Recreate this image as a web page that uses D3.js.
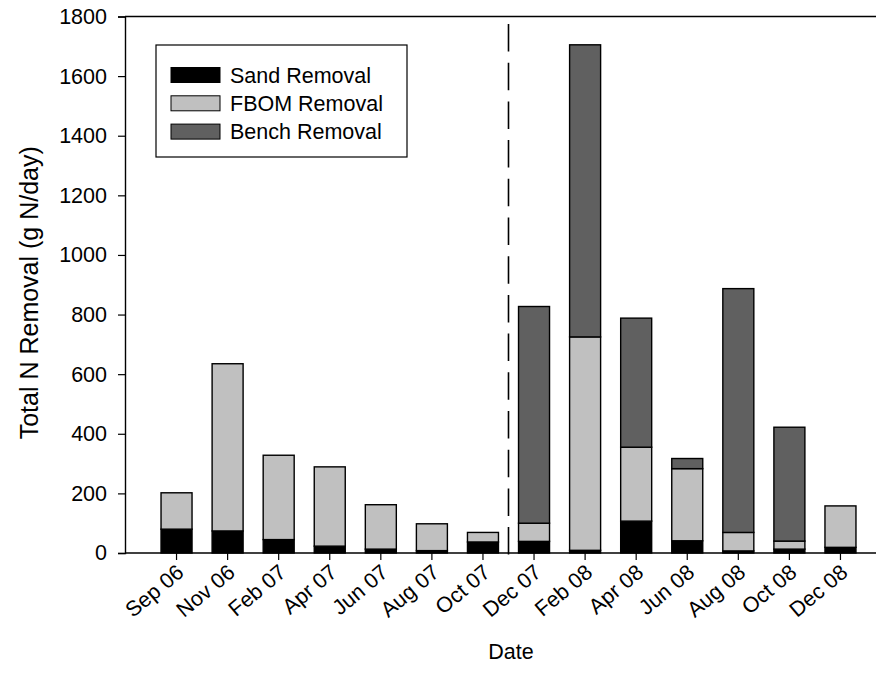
<!DOCTYPE html>
<html>
<head>
<meta charset="utf-8">
<script src="https://cdn.jsdelivr.net/npm/d3@7"></script>
<style>
  body { margin: 0; background: #fff; }
  text { font-family: "Liberation Sans", Arial, sans-serif; fill: #000; }
</style>
</head>
<body>
<div id="chart"></div>
<script>
// 데이터
const dates = ["Sep 06", "Nov 06", "Feb 07", "Apr 07", "Jun 07", "Aug 07", "Oct 07",
               "Dec 07", "Feb 08", "Apr 08", "Jun 08", "Aug 08", "Oct 08", "Dec 08"];
const sand  = [80, 74, 45, 23, 13, 8, 37, 39, 9, 107, 41, 7, 13, 19];
const fbom  = [122, 561, 283, 266, 149, 90, 32, 61, 716, 248, 242, 62, 27, 139];
const bench = [0, 0, 0, 0, 0, 0, 0, 727, 980, 433, 34, 818, 382, 0];
const seriesNames = ["Sand Removal", "FBOM Removal", "Bench Removal"];
const seriesColors = ["#000000", "#c0c0c0", "#606060"];
const yTicks = [0, 200, 400, 600, 800, 1000, 1200, 1400, 1600, 1800];

const width = 876, height = 679;
const mLeft = 125, mRight = 876, mTop = 16.5, mBottom = 553;

const svg = d3.select('#chart')
    .append('svg')
    .attr('width', width)
    .attr('height', height);

const rows = dates.map((d, i) => ({ date: d, sand: sand[i], fbom: fbom[i], bench: bench[i] }));
const stack = d3.stack().keys(["sand", "fbom", "bench"])(rows);

const x = d3.scaleBand()
    .domain(dates)
    .range([151, 866])
    .paddingInner(0.393)
    .paddingOuter(0.1965);

const y = d3.scaleLinear()
    .domain([0, 1800])
    .range([mBottom, mTop]);

// 막대
stack.forEach((layer, k) => {
    svg.append('g')
        .selectAll('rect')
        .data(layer.filter(d => d[1] - d[0] > 0))
        .join('rect')
        .attr('x', d => x(d.data.date))
        .attr('y', d => y(d[1]))
        .attr('width', x.bandwidth())
        .attr('height', d => y(d[0]) - y(d[1]))
        .attr('fill', seriesColors[k])
        .attr('stroke', '#000')
        .attr('stroke-width', 1.4);
});

// y축
const yAxis = svg.append('g')
    .attr('transform', `translate(${mLeft},0)`)
    .call(d3.axisLeft(y).tickValues(yTicks).tickSize(7).tickPadding(11).tickFormat(d3.format('d')));
yAxis.select('.domain').attr('stroke-width', 1.4);
yAxis.selectAll('.tick line').attr('stroke-width', 1.2);
yAxis.selectAll('text').style('font-size', '21.5px');

// x축
svg.append('line')
    .attr('x1', mLeft).attr('x2', mRight)
    .attr('y1', mBottom).attr('y2', mBottom)
    .attr('stroke', '#000').attr('stroke-width', 1.4);
svg.append('line')
    .attr('x1', mLeft).attr('x2', mRight)
    .attr('y1', mTop).attr('y2', mTop)
    .attr('stroke', '#000').attr('stroke-width', 1.4);

const xt = svg.append('g');
xt.selectAll('line')
    .data(dates)
    .join('line')
    .attr('x1', d => x(d) + x.bandwidth() / 2)
    .attr('x2', d => x(d) + x.bandwidth() / 2)
    .attr('y1', mBottom).attr('y2', mBottom + 7)
    .attr('stroke', '#000').attr('stroke-width', 1.2);
xt.selectAll('text')
    .data(dates)
    .join('text')
    .attr('transform', d => `translate(${x(d) + x.bandwidth() / 2 - 1},${mBottom + 10}) rotate(-40)`)
    .attr('text-anchor', 'end')
    .attr('dy', '0.7em')
    .style('font-size', '21.5px')
    .text(d => d);

// 점선 (2007 / 2008 구분)
const xSplit = (x("Oct 07") + x("Dec 07")) / 2 + x.bandwidth() / 2;
svg.append('line')
    .attr('x1', xSplit).attr('x2', xSplit)
    .attr('y1', mTop).attr('y2', mBottom + 2)
    .attr('stroke', '#000')
    .attr('stroke-width', 1.6)
    .attr('stroke-dasharray', '27.5,11.2')
    .attr('stroke-dashoffset', 31.2);

// 축 제목
svg.append('text')
    .attr('transform', `translate(38,${(mTop + mBottom) / 2 + 8}) rotate(-90)`)
    .attr('text-anchor', 'middle')
    .style('font-size', '25px')
    .text('Total N Removal (g N/day)');

svg.append('text')
    .attr('x', 511)
    .attr('y', 659)
    .attr('text-anchor', 'middle')
    .style('font-size', '21.5px')
    .text('Date');

// 범례
const legend = svg.append('g');
legend.append('rect')
    .attr('x', 156).attr('y', 45)
    .attr('width', 251).attr('height', 112)
    .attr('fill', '#fff')
    .attr('stroke', '#000')
    .attr('stroke-width', 1.2);
seriesNames.forEach((name, i) => {
    const cy = 75 + i * 28.3;
    legend.append('rect')
        .attr('x', 171).attr('y', cy - 7.5)
        .attr('width', 49).attr('height', 15)
        .attr('fill', seriesColors[i])
        .attr('stroke', '#000')
        .attr('stroke-width', 1);
    legend.append('text')
        .attr('x', 230).attr('y', cy)
        .attr('dy', '0.35em')
        .style('font-size', '21.5px')
        .text(name);
});
</script>
</body>
</html>
